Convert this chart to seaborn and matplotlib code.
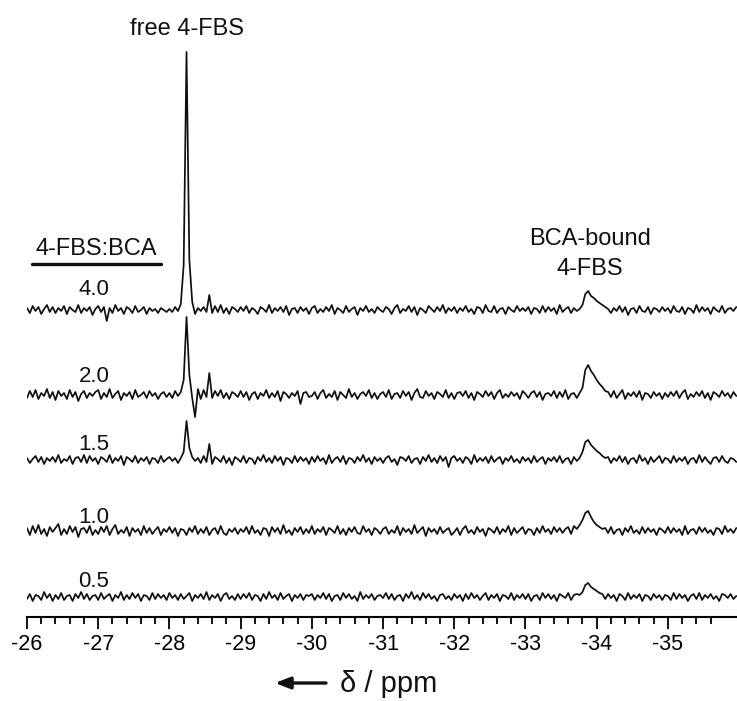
import numpy as np
import pandas as pd
import matplotlib
matplotlib.use("Agg")
import matplotlib.pyplot as plt
import seaborn as sns
from matplotlib.ticker import FixedLocator, FuncFormatter

# ---------------- data ----------------
# 4-FBS:BCA ratios (stack order top -> bottom)
ratios = ["4.0", "2.0", "1.5", "1.0", "0.5"]

# chemical-shift grid: -26.00 ppm to -35.96 ppm, 0.04 ppm per point (25 points per ppm row)
ppm_start = -26.0
ppm_step = -0.04

# intensities (a.u.); each row = 1 ppm (25 points)
spec_40 = [
    2,-3,4,-1,3,-4,1,5,-2,3,-3,2,-1,4,-4,3,0,-2,5,-3,2,-1,3,-5,1,
    4,-2,3,-11,2,-3,5,-1,2,-4,3,1,-3,4,-2,0,3,-4,2,-1,1,-3,2,0,-2,
    1,-2,3,-1,6,45,258,50,8,-4,2,-1,3,-2,15,-3,4,-2,5,-3,2,-4,3,1,-2,
    3,-1,4,-3,2,0,-4,3,1,-2,5,-3,2,-1,3,-2,4,-5,1,2,-3,3,-1,2,-4,
    2,4,-3,1,-2,3,-1,5,-4,2,0,-3,4,-2,1,3,-5,2,-1,4,-2,1,-3,3,0,
    -2,3,1,-4,2,5,-3,1,-1,4,-2,3,-5,2,0,-3,4,1,-2,3,-1,5,-3,2,-1,
    3,-3,2,-1,4,-2,1,-4,3,2,-3,5,-1,-2,4,-3,1,2,-4,3,0,-2,4,-1,2,
    -1,3,-4,2,1,-3,4,-2,3,-1,2,-4,5,-2,1,3,-3,2,-1,1,5,16,19,14,12,
    9,7,5,3,1,-3,2,-1,4,-2,3,-5,1,2,-3,4,-1,-2,3,-4,2,1,-2,3,-1,
    2,-3,4,-1,-2,3,-4,2,1,-3,5,-2,3,-1,2,-4,3,0,-2,4,-3,1,2,-1,3,
]
spec_20 = [
    -3,4,-2,5,-4,2,-1,6,-3,3,-5,4,-1,2,-4,5,-2,3,-6,1,4,-3,2,-1,3,
    5,-4,2,-2,6,-3,1,4,-5,2,-1,3,-4,5,-2,0,3,-3,4,-1,2,-4,1,3,-2,
    2,-3,4,-1,3,15,78,20,-3,-22,6,-4,5,-2,22,-3,4,-1,5,-3,2,-4,3,1,-2,
    4,-2,3,-5,1,3,-4,2,-1,5,-3,2,-2,4,-6,3,1,-3,2,-1,4,-9,2,3,-2,
    -1,3,-4,2,5,-3,1,-2,4,-5,3,0,-3,6,-2,2,-4,1,3,-1,5,-3,2,-4,1,
    3,-2,5,-4,1,2,-3,4,-1,3,-5,2,6,-2,-3,4,-1,2,-4,3,1,-2,5,-3,2,
    -4,2,3,-1,4,-3,2,-5,3,1,-2,4,-1,3,-4,2,5,-3,1,-2,3,-1,2,-4,4,
    1,-3,2,4,-2,3,-5,1,2,-1,4,-3,3,-2,5,-4,1,2,-3,2,7,25,30,24,20,
    15,11,8,4,3,-2,4,-3,1,5,-4,2,-1,3,-2,4,-5,2,1,-3,3,-1,2,-4,2,
    -2,3,-1,4,-3,2,5,-4,1,-2,3,-1,4,-3,2,-5,3,1,-2,4,-1,2,-3,3,-1,
]
spec_15 = [
    2,-3,1,4,-2,3,-4,2,-1,3,-2,5,-3,1,-1,4,-4,2,3,-2,5,-3,4,-1,2,
    -4,3,1,-2,5,-3,2,-1,4,-5,3,1,-2,4,-3,2,-1,3,-4,2,1,-3,4,-2,1,
    3,-1,2,-3,2,8,39,12,3,-1,2,-3,4,-2,16,-4,3,1,-2,4,-3,2,-5,3,1,
    -2,4,-3,2,1,-4,3,-1,5,-2,2,-3,4,-1,3,-5,2,1,-3,4,-2,3,-1,2,-4,
    3,-2,4,-1,2,-4,5,-3,1,3,-2,4,-4,2,1,-3,3,-1,5,-2,2,-4,3,-1,2,
    -3,2,4,-2,1,-5,3,2,-1,4,-3,1,2,-4,3,-1,5,-2,2,-3,4,-1,3,-7,2,
    4,-1,2,-3,3,1,-4,5,-2,2,-1,3,-3,4,-2,1,3,-4,2,-1,4,-2,1,-3,3,
    -1,2,-3,4,-2,1,3,-4,2,-1,3,-2,4,-3,1,2,-4,3,-1,2,8,18,20,15,12,
    9,7,4,2,3,-3,2,-1,4,-2,3,-4,1,2,-3,5,-1,2,-4,3,-2,1,4,-3,2,
    1,-3,4,-2,2,-1,3,-4,1,2,-3,5,-2,3,-1,-4,2,3,-2,4,-1,-3,2,1,-2,
]
spec_10 = [
    3,-4,5,-2,6,-3,2,-5,4,-1,3,7,-4,2,-3,5,-1,4,-6,2,3,-2,5,-4,1,
    -3,4,-1,5,-4,2,6,-3,1,-2,4,-5,3,-1,2,-4,5,-2,3,-3,1,4,-4,2,-1,
    4,-2,3,-5,2,1,-4,3,-1,5,-3,2,-2,4,-4,1,3,-3,5,-2,-4,2,-1,3,-3,
    2,-1,4,-3,5,-2,1,-4,3,2,-5,4,-1,3,-3,6,-2,1,-4,3,-1,4,-3,2,-2,
    5,-3,2,-1,4,-4,3,1,-2,5,-3,2,-4,3,-1,4,-2,-3,5,-1,2,-4,3,1,-3,
    2,4,-3,1,-2,5,-4,3,-1,2,-3,6,-2,1,4,-5,3,-1,2,-3,4,-2,1,3,-4,
    -1,3,-4,2,5,-2,1,-3,4,-1,2,-5,3,1,-2,4,-3,2,-1,5,-4,3,-2,1,4,
    -3,2,1,-4,3,-2,5,-1,2,-3,4,-1,3,-2,2,4,-3,5,2,6,11,18,20,14,9,
    6,4,2,3,-2,4,-3,1,2,-4,3,-1,5,-2,1,-3,4,-2,3,-1,2,-4,3,1,-2,
    4,-2,3,-1,2,-4,5,-3,1,2,-3,4,-1,3,-2,1,-4,3,2,-3,5,-1,2,-2,3,
]
spec_05 = [
    -2,3,-4,2,1,-3,5,-1,3,-4,2,-2,4,-3,1,2,-4,3,-1,5,-2,3,-3,1,2,
    -3,4,-2,1,3,-4,2,-1,5,-3,2,-2,4,-1,3,-4,2,1,-3,4,-2,3,-1,2,-3,
    4,-1,2,-3,3,-2,1,4,-4,2,-1,3,-2,5,-3,2,-1,3,-4,2,4,-2,1,-3,3,
    -2,3,-1,4,-3,2,1,-4,3,-2,5,-1,2,-3,4,-2,1,3,-4,2,-1,3,-3,2,1,
    3,-3,2,-1,4,-2,3,-4,1,2,-3,4,-1,3,-2,1,-4,5,-2,2,-1,3,-3,1,2,
    -1,4,-2,3,-3,1,2,-4,3,-1,5,-2,2,-3,4,-1,3,-2,1,-4,2,3,-2,1,-3,
    3,-1,2,-4,3,-2,4,-1,2,-3,1,4,-3,2,-1,3,-4,2,1,-2,4,-3,2,-1,3,
    -2,3,-4,1,2,-3,4,-1,3,-2,2,-4,3,1,-1,4,-3,2,3,2,5,12,14,10,8,
    6,4,3,-2,3,-1,2,-4,3,1,-3,4,-2,2,-1,3,-4,2,1,-3,3,-1,2,-3,2,
    1,-3,4,-2,3,-1,2,-4,1,3,-2,4,-3,2,-1,3,-2,1,-4,3,2,-1,3,-2,1,
]
spectra = [spec_40, spec_20, spec_15, spec_10, spec_05]
for s in spectra:
    assert len(s) == 250, len(s)

major_ticks = [-26, -27, -28, -29, -30, -31, -32, -33, -34, -35]

# ---------------- layout / style ----------------
W, H = 737, 701
offsets = [307, 222, 157, 86, 20]          # vertical stacking of traces
label_base_y = [295, 382, 450, 523, 587]   # ratio label baselines (px from top)

sns.set_style("white")
plt.rcParams["font.family"] = ["Liberation Sans", "DejaVu Sans"]
plt.rcParams["axes.unicode_minus"] = False

fig = plt.figure(figsize=(W / 100, H / 100), dpi=100)
ax = fig.add_axes([27 / W, (H - 617) / H, 710 / W, 617 / H])

rows = []
for r, s, off in zip(ratios, spectra, offsets):
    ppm = ppm_start + ppm_step * np.arange(len(s))
    rows.append(pd.DataFrame({"ppm": ppm, "y": np.asarray(s, float) + off, "ratio": r}))
df = pd.concat(rows, ignore_index=True)

for r in ratios:
    sub = df[df["ratio"] == r]
    sns.lineplot(data=sub, x="ppm", y="y", ax=ax, color="#101010", lw=1.25,
                 sort=False, estimator=None, legend=False)

ax.set_xlim(-26, -35.97)
ax.set_ylim(0, 617)
ax.set_xlabel("")
ax.set_ylabel("")
ax.set_yticks([])
for sp in ["top", "left", "right"]:
    ax.spines[sp].set_visible(False)
ax.spines["bottom"].set_linewidth(1.5)
ax.spines["bottom"].set_color("black")

ax.xaxis.set_major_locator(FixedLocator(major_ticks))
ax.xaxis.set_minor_locator(FixedLocator([-26 - 0.2 * k for k in range(49) if k % 5 != 0]))
ax.xaxis.set_major_formatter(FuncFormatter(lambda v, p: f"{int(round(v))}"))
ax.tick_params(axis="x", which="major", direction="out", length=8.5, width=1.3,
               pad=4, labelsize=15.5, colors="black")
ax.tick_params(axis="x", which="minor", direction="out", length=5, width=1.3,
               colors="black")
ax.xaxis.set_ticks_position("bottom")


def ftext(x, y, s, **kw):
    fig.text(x / W, 1 - y / H, s, **kw)


for r, yb in zip(ratios, label_base_y):
    ftext(94, yb, r, ha="center", va="baseline", fontsize=16, color="#111111")

ftext(186.5, 35, "free 4-FBS", ha="center", va="baseline", fontsize=17, color="#111111")
ftext(590, 245, "BCA-bound", ha="center", va="baseline", fontsize=17, color="#111111")
ftext(590, 275, "4-FBS", ha="center", va="baseline", fontsize=17, color="#111111")
ftext(96, 255, "4-FBS:BCA", ha="center", va="baseline", fontsize=17, color="#111111")
fig.add_artist(plt.Line2D([32 / W, 161 / W], [1 - 264 / H, 1 - 264 / H],
                          color="#111111", lw=2.4))

# axis title with arrow
ftext(340, 692, "δ / ppm", ha="left", va="baseline", fontsize=21, color="#111111")
ax.annotate("", xy=(275, H - 683), xytext=(326, H - 683),
            xycoords="figure pixels", textcoords="figure pixels",
            arrowprops=dict(arrowstyle="-|>,head_length=0.9,head_width=0.35",
                            lw=2.4, color="#111111", shrinkA=0, shrinkB=0))

fig.savefig("out.png", dpi=100)
